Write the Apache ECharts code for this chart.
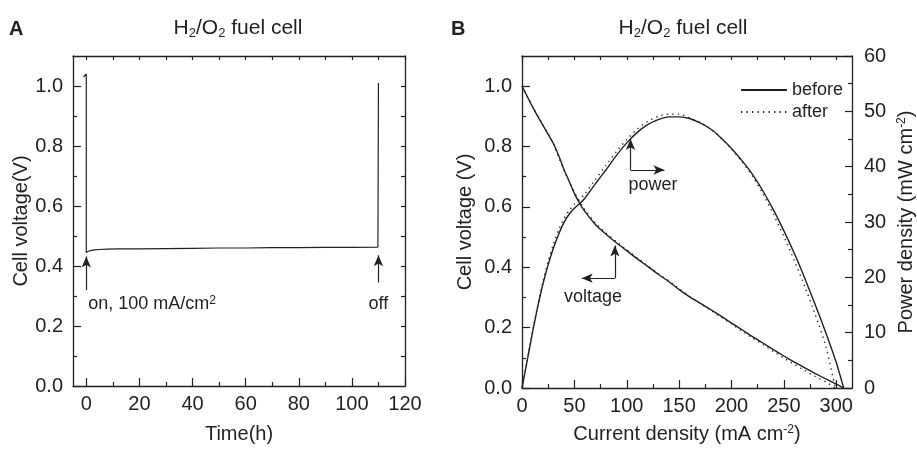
<!DOCTYPE html>
<html><head><meta charset="utf-8">
<script src="https://cdn.jsdelivr.net/npm/echarts@6/dist/echarts.min.js"></script>
<style>html,body{margin:0;padding:0;background:#fff}#c{width:917px;height:449px}</style>
</head><body><div id="c"></div>
<script>
// ---------- Panel A: voltage vs time ----------
const timeH = [-1, 0, 0, 0.5, 1, 2, 3, 5, 8, 12, 20, 30, 40, 50, 60, 70, 80, 90, 100, 109.8, 110];
const voltTime = [1.03, 1.04, 0.445, 0.448, 0.450, 0.452, 0.454, 0.455, 0.456, 0.457, 0.457, 0.458, 0.459, 0.460, 0.460, 0.461, 0.461, 0.462, 0.462, 0.463, 1.01];

// ---------- Panel B: polarisation curves ----------
const curBefore = [0,5,10,15,20,25,30,35,40,45,50,55,60,70,80,90,100,110,120,130,140,150,160,170,180,190,200,210,220,230,240,250,260,270,280,290,300,307];
const voltBefore = [1.000,0.966,0.932,0.900,0.870,0.840,0.810,0.770,0.725,0.685,0.645,0.612,0.585,0.542,0.510,0.481,0.455,0.428,0.403,0.377,0.353,0.326,0.302,0.281,0.260,0.238,0.215,0.193,0.170,0.149,0.127,0.106,0.086,0.067,0.048,0.030,0.013,0.000];
const powBefore = [0,5.0,10.0,14.7,18.8,22.3,25.3,27.8,29.9,31.4,32.5,33.3,34.3,36.9,39.4,42.0,44.3,46.2,47.6,48.5,49.0,49.0,48.7,47.9,46.8,45.2,43.3,41.1,38.6,35.6,32.2,28.4,24.3,19.8,15.0,10.0,4.6,0];
const curAfter = [0,5,10,15,20,25,30,35,40,45,50,55,60,70,80,90,100,110,120,130,140,150,160,170,180,190,200,210,220,230,240,250,260,270,280,290,299];
const voltAfter = [1.000,0.966,0.933,0.902,0.872,0.842,0.808,0.765,0.722,0.684,0.648,0.617,0.590,0.547,0.514,0.485,0.458,0.431,0.405,0.379,0.355,0.329,0.304,0.281,0.258,0.235,0.212,0.189,0.166,0.144,0.121,0.099,0.078,0.058,0.038,0.020,0.000];
const powAfter = [0,5.0,10.1,14.9,19.2,22.9,26.0,28.6,30.6,32.1,33.2,34.1,35.1,37.7,40.2,42.7,44.9,46.8,48.2,49.1,49.5,49.5,48.8,48.0,46.8,45.2,43.2,40.9,38.3,35.1,31.4,27.4,23.0,18.3,13.2,7.6,0];

// ---------- ticks ----------
const tTimeMajor = [0,20,40,60,80,100,120];
const tTimeMinor = [10,30,50,70,90,110];
const tTimeTop = [0,10,20,30,40,50,60,70,80,90,100,110,120];
const tVoltMajor = [0,0.2,0.4,0.6,0.8,1.0];
const tVoltMinor = [0.1,0.3,0.5,0.7,0.9];
const tVoltAll = [0.1,0.2,0.3,0.4,0.5,0.6,0.7,0.8,0.9,1.0];
const tCurMajor = [0,50,100,150,200,250,300];
const tCurMinor = [25,75,125,175,225,275];
const tCurTop = [0,25,50,75,100,125,150,175,200,225,250,275,300];
const tPowMajor = [0,10,20,30,40,50,60];
const tPowMinor = [5,15,25,35,45,55];

// ---------- annotations (data coordinates) ----------
const arrowsA = [[[0,0.32],[0,0.432]], [[110,0.345],[110,0.436]]];
const arrowsBvolt = [[[88.7,0.364],[88.7,0.472]], [[88.7,0.364],[57,0.364]]];
const arrowsBpow = [[[103.6,39.4],[103.6,45.0]], [[103.6,39.4],[136,39.4]]];

const C = '#231f20';
const F = 'Liberation Sans';

function ax(o) {
  const a = {
    type: 'value', gridIndex: o.g, position: o.pos, min: o.min, max: o.max,
    axisLine: { show: !!o.line, onZero: false, lineStyle: { color: C, width: 1.3 } },
    axisTick: o.ticks ? { show: true, inside: true, length: o.len, customValues: o.ticks, lineStyle: { color: C, width: 1.2 } } : { show: false },
    axisLabel: o.labels ? { show: true, customValues: o.labels, formatter: o.fmt, fontSize: 20, color: C, fontFamily: F, margin: o.margin } : { show: false },
    splitLine: { show: false }, minorTick: { show: false }
  };
  if (o.name) {
    a.name = o.name; a.nameLocation = 'middle'; a.nameGap = o.gap;
    a.nameTextStyle = { fontSize: 20, color: C, fontFamily: F, rich: {
      sup: { fontSize: 12, lineHeight: 6, verticalAlign: 'top', color: C, fontFamily: F }
    } };
  }
  return a;
}
const f1 = v => v.toFixed(1);
const f0 = v => String(Math.round(v));

const xAxes = [
  ax({g:0,pos:'bottom',min:-5,max:120,line:true,ticks:tTimeMajor,len:8,labels:tTimeMajor,fmt:f0,margin:8,name:'Time(h)',gap:38}),
  ax({g:0,pos:'bottom',min:-5,max:120,ticks:tTimeMinor,len:4}),
  ax({g:0,pos:'top',min:-5,max:120,line:true,ticks:tTimeTop,len:4}),
  ax({g:1,pos:'bottom',min:0,max:315,line:true,ticks:tCurMajor,len:8,labels:tCurMajor,fmt:f0,margin:8,name:'Current density (mA cm{sup|-2})',gap:36}),
  ax({g:1,pos:'bottom',min:0,max:315,ticks:tCurMinor,len:4}),
  ax({g:1,pos:'top',min:0,max:315,line:true,ticks:tCurTop,len:4})
];
const yAxes = [
  ax({g:0,pos:'left',min:0,max:1.1,line:true,ticks:tVoltMajor,len:8,labels:tVoltMajor,fmt:f1,margin:10,name:'Cell voltage(V)',gap:41}),
  ax({g:0,pos:'left',min:0,max:1.1,ticks:tVoltMinor,len:4}),
  ax({g:0,pos:'right',min:0,max:1.1,line:true,ticks:tVoltAll,len:4}),
  ax({g:1,pos:'left',min:0,max:1.1,line:true,ticks:tVoltMajor,len:8,labels:tVoltMajor,fmt:f1,margin:10,name:'Cell voltage (V)',gap:47}),
  ax({g:1,pos:'left',min:0,max:1.1,ticks:tVoltMinor,len:4}),
  ax({g:1,pos:'right',min:0,max:60,line:true,ticks:tPowMajor,len:7,labels:tPowMajor,fmt:f0,margin:12,name:'Power density (mW cm{sup|-2})',gap:44}),
  ax({g:1,pos:'right',min:0,max:60,ticks:tPowMinor,len:4})
];

const zip = (xs, ys) => xs.map((x, i) => [x, ys[i]]);
const mk = arr => ({
  silent: true, symbol: ['none', 'arrow'], symbolSize: [7, 11], animation: false,
  label: { show: false }, lineStyle: { color: C, width: 1.2, type: 'solid' },
  emphasis: { disabled: true },
  data: arr.map(p => [{ coord: p[0] }, { coord: p[1] }])
});
const DOT = [1.3, 4.2];

const option = {
  animation: false,
  textStyle: { fontFamily: F },
  grid: [
    { left: 73, top: 56, width: 332, height: 332 },
    { left: 522, top: 56, width: 331, height: 332 }
  ],
  xAxis: xAxes,
  yAxis: yAxes,
  legend: {
    data: ['before', 'after'], orient: 'vertical', left: 735, top: 76,
    itemWidth: 46, itemHeight: 14, itemGap: 4,
    itemStyle: { color: 'rgba(0,0,0,0)', borderColor: 'rgba(0,0,0,0)', borderWidth: 0, opacity: 0 },
    textStyle: { fontSize: 18, color: C, fontFamily: F }, selectedMode: false
  },
  series: [
    { type: 'line', name: 'A', xAxisIndex: 0, yAxisIndex: 0, data: zip(timeH, voltTime), showSymbol: false, symbol: 'none',
      lineStyle: { color: C, width: 1.2 }, markLine: mk(arrowsA) },
    { type: 'line', name: 'before', xAxisIndex: 3, yAxisIndex: 3, data: zip(curBefore, voltBefore), symbol: 'none', smooth: 0.2,
      lineStyle: { color: C, width: 1.4 }, itemStyle: { color: C }, markLine: mk(arrowsBvolt) },
    { type: 'line', name: 'after', xAxisIndex: 3, yAxisIndex: 3, data: zip(curAfter, voltAfter), symbol: 'none', smooth: 0.2,
      lineStyle: { color: C, width: 1.4, type: DOT }, itemStyle: { color: C } },
    { type: 'line', name: 'before', xAxisIndex: 3, yAxisIndex: 5, data: zip(curBefore, powBefore), symbol: 'none', smooth: 0.2,
      lineStyle: { color: C, width: 1.4 }, itemStyle: { color: C }, markLine: mk(arrowsBpow) },
    { type: 'line', name: 'after', xAxisIndex: 3, yAxisIndex: 5, data: zip(curAfter, powAfter), symbol: 'none', smooth: 0.2,
      lineStyle: { color: C, width: 1.4, type: DOT }, itemStyle: { color: C } }
  ]
};

const chart = echarts.init(document.getElementById('c'), null, { renderer: 'canvas' });
chart.setOption(option);

// texts placed via the chart's own scales
const notes = [
  { xi: 0, yi: 0, at: [0.7, 0.272], text: '{m|on, 100 mA/cm}{sp|2}', align: 'left' },
  { xi: 0, yi: 0, at: [110, 0.272], text: '{m|off}', align: 'center' },
  { xi: 3, yi: 3, at: [125, 0.673], text: '{m|power}', align: 'center' },
  { xi: 3, yi: 3, at: [67.8, 0.302], text: '{m|voltage}', align: 'center' }
];
const rich = {
  m: { fontSize: 18, fontFamily: F, fill: C, lineHeight: 20 },
  sp: { fontSize: 12, fontFamily: F, fill: C, lineHeight: 6, verticalAlign: 'top' },
  t: { fontSize: 21, fontFamily: F, fill: C, lineHeight: 24 },
  sb: { fontSize: 13, fontFamily: F, fill: C, lineHeight: 4, verticalAlign: 'bottom' }
};
const graphics = notes.map(n => {
  const p = chart.convertToPixel({ xAxisIndex: n.xi, yAxisIndex: n.yi }, n.at);
  return { type: 'text', x: p[0], y: p[1], silent: true,
    style: { text: n.text, rich, align: n.align, verticalAlign: 'middle' } };
});
const title = '{t|H}{sb|2}{t|/O}{sb|2}{t| fuel cell}';
graphics.push(
  { type: 'text', x: 238, y: 28, silent: true, style: { text: title, rich, align: 'center', verticalAlign: 'middle' } },
  { type: 'text', x: 683, y: 28, silent: true, style: { text: title, rich, align: 'center', verticalAlign: 'middle' } },
  { type: 'text', x: 9, y: 29, silent: true, style: { text: 'A', font: 'bold 20px ' + F, fill: C, verticalAlign: 'middle' } },
  { type: 'text', x: 451, y: 29, silent: true, style: { text: 'B', font: 'bold 20px ' + F, fill: C, verticalAlign: 'middle' } }
);
chart.setOption({ graphic: graphics });
</script>
</body></html>
